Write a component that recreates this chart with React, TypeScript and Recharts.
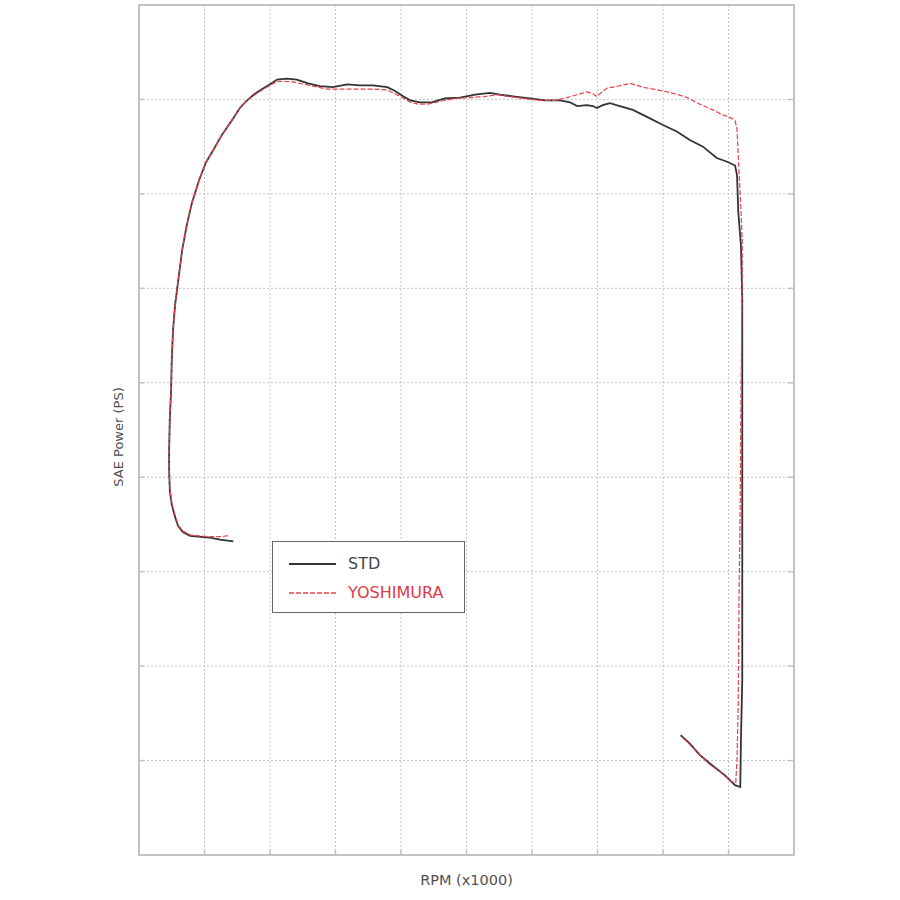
import React from "react";
import {
  LineChart,
  Line,
  XAxis,
  YAxis,
  ReferenceArea,
  ReferenceLine,
  Legend,
} from "recharts";

// RPM (x1000) along the traced path, STD exhaust
const stdRpm = [
  1.44, 1.24, 1.08, 0.9, 0.78, 0.67, 0.6, 0.55, 0.5, 0.47, 0.46, 0.46, 0.47, 0.49, 0.5, 0.52,
  0.55, 0.6, 0.66, 0.73, 0.81, 0.92, 1.02, 1.13, 1.27, 1.44, 1.54, 1.65, 1.77, 1.88, 2.0, 2.11,
  2.26, 2.41, 2.58, 2.76, 2.96, 3.18, 3.37, 3.57, 3.79, 3.91, 4.02, 4.14, 4.29, 4.47, 4.67, 4.9,
  5.13, 5.36, 5.51, 5.74, 5.97, 6.2, 6.43, 6.58, 6.69, 6.84, 6.93, 6.99, 7.08, 7.19, 7.34, 7.54,
  7.77, 8.0, 8.21, 8.41, 8.61, 8.82, 8.98, 9.1, 9.13, 9.15, 9.19, 9.21, 9.21, 9.21, 9.21, 9.21,
  9.19, 9.18, 9.1, 8.95, 8.75, 8.56, 8.41, 8.27,
];
const stdPower = [
  33.2, 33.4, 33.6, 33.7, 33.8, 34.2, 34.8, 35.8, 37.1, 38.6, 40.8, 42.9, 46.1, 49.2, 52.4, 55.6,
  58.2, 60.9, 64.1, 66.7, 69.1, 71.5, 73.3, 74.6, 76.3, 78.0, 79.1, 79.9, 80.6, 81.1, 81.6, 82.1,
  82.2, 82.1, 81.7, 81.4, 81.3, 81.6, 81.5, 81.5, 81.3, 80.9, 80.4, 79.9, 79.7, 79.7, 80.1, 80.2,
  80.5, 80.7, 80.5, 80.3, 80.1, 79.9, 79.9, 79.7, 79.3, 79.4, 79.3, 79.1, 79.4, 79.6, 79.3, 78.9,
  78.1, 77.3, 76.6, 75.7, 75.0, 73.8, 73.4, 73.0, 72.0, 68.0, 64.6, 58.8, 48.2, 37.6, 27.0, 18.5,
  12.2, 7.2, 7.4, 8.4, 9.5, 10.6, 11.8, 12.7,
];

// YOSHIMURA exhaust
const yoshiRpm = [
  1.36, 1.24, 1.08, 0.9, 0.78, 0.67, 0.6, 0.55, 0.5, 0.47, 0.46, 0.46, 0.47, 0.49, 0.5, 0.52,
  0.55, 0.6, 0.66, 0.73, 0.81, 0.92, 1.02, 1.13, 1.27, 1.44, 1.54, 1.65, 1.77, 1.88, 2.0, 2.11,
  2.31, 2.53, 2.73, 2.87, 3.15, 3.37, 3.6, 3.79, 3.91, 4.02, 4.14, 4.26, 4.41, 4.6, 4.82, 5.05,
  5.28, 5.47, 5.66, 5.89, 6.12, 6.35, 6.53, 6.69, 6.84, 6.93, 6.99, 7.07, 7.15, 7.31, 7.5, 7.69,
  7.85, 8.0, 8.18, 8.37, 8.56, 8.76, 8.9, 9.02, 9.1, 9.13, 9.15, 9.18, 9.21, 9.21, 9.19, 9.18,
  9.16, 9.15, 9.13, 9.11, 9.02, 8.87, 8.69, 8.52, 8.38, 8.27,
];
const yoshiPower = [
  33.8, 33.7, 33.7, 33.8, 33.9, 34.3, 34.9, 36.0, 37.3, 38.9, 40.8, 42.9, 46.1, 49.2, 52.4, 55.6,
  58.2, 60.9, 64.1, 66.7, 69.1, 71.5, 73.3, 74.6, 76.3, 78.0, 79.1, 79.9, 80.5, 81.0, 81.5, 81.9,
  81.9, 81.6, 81.3, 81.1, 81.1, 81.1, 81.1, 81.0, 80.6, 80.2, 79.7, 79.5, 79.5, 79.8, 80.1, 80.2,
  80.3, 80.5, 80.3, 80.1, 79.9, 79.9, 80.2, 80.5, 80.8, 80.6, 80.3, 80.8, 81.2, 81.4, 81.7, 81.3,
  81.1, 80.9, 80.6, 80.2, 79.5, 78.9, 78.4, 78.1, 77.8, 76.8, 73.9, 69.7, 65.1, 60.9, 48.2, 37.6,
  27.0, 16.4, 10.1, 7.6, 7.9, 8.8, 9.7, 10.9, 11.9, 12.6,
];

const rpmTicks = [0, 1, 2, 3, 4, 5, 6, 7, 8, 9, 10];
const powerTicks = [0, 10, 20, 30, 40, 50, 60, 70, 80, 90];

const stdData = stdRpm.map((rpm, i) => ({ rpm, power: stdPower[i] }));
const yoshiData = yoshiRpm.map((rpm, i) => ({ rpm, power: yoshiPower[i] }));

const legendItems = [
  { name: "STD", color: "#333", textColor: "#444", dash: undefined },
  { name: "YOSHIMURA", color: "#e8434c", textColor: "#e23a45", dash: "5 2" },
];

const FONT = "'DejaVu Sans', sans-serif";
const GRID = "#c4c4c4";
const FRAME = "#c2c2c2";

// kotak legend di tengah bawah
const LegendBox = () => (
  <div
    style={{
      width: 193,
      height: 72,
      boxSizing: "border-box",
      border: "1px solid #666",
      background: "#fff",
      position: "relative",
      fontFamily: FONT,
      fontSize: 16,
    }}
  >
    {legendItems.map((item, i) => (
      <div
        key={item.name}
        style={{
          position: "absolute",
          left: 16,
          top: 11 + i * 29,
          height: 22,
          display: "flex",
          alignItems: "center",
        }}
      >
        <svg width={47} height={4}>
          <line
            x1={0}
            y1={2}
            x2={47}
            y2={2}
            stroke={item.color}
            strokeWidth={item.dash ? 1.3 : 2}
            strokeDasharray={item.dash}
          />
        </svg>
        <span style={{ marginLeft: 12, color: item.textColor, lineHeight: "22px" }}>{item.name}</span>
      </div>
    ))}
  </div>
);

const App = () => {
  return (
    <div style={{ position: "absolute", left: 0, top: 0, width: 900, height: 900, background: "#fff" }}>
      <LineChart width={900} height={900} margin={{ top: 5, right: 106, bottom: 0, left: 97 }}>
        <XAxis
          dataKey="rpm"
          type="number"
          domain={[0, 10]}
          ticks={rpmTicks}
          allowDataOverflow
          height={45}
          axisLine={false}
          tick={false}
          tickLine={false}
          label={{
            content: (props: any) => {
              const vb = props.viewBox;
              return (
                <text
                  x={vb.x + vb.width / 2}
                  y={vb.y + 25}
                  textAnchor="middle"
                  dominantBaseline="central"
                  fontFamily={FONT}
                  fontSize={14.5}
                  fill="#505050"
                >
                  RPM (x1000)
                </text>
              );
            },
          }}
        />
        <YAxis
          type="number"
          domain={[0, 90]}
          ticks={powerTicks}
          allowDataOverflow
          width={42}
          axisLine={false}
          tickLine={false}
          tick={false}
          label={{
            content: (props: any) => {
              const vb = props.viewBox;
              const cx = vb.x + vb.width / 2;
              const cy = vb.y + vb.height / 2 + 7;
              return (
                <text
                  x={cx}
                  y={cy}
                  transform={`rotate(-90, ${cx}, ${cy})`}
                  textAnchor="middle"
                  dominantBaseline="central"
                  fontFamily={FONT}
                  fontSize={13}
                  fill="#505050"
                >
                  SAE Power (PS)
                </text>
              );
            },
          }}
        />
        {/* grid putus-putus */}
        {rpmTicks.slice(1, -1).map((t) => (
          <ReferenceLine key={`x${t}`} x={t} stroke={GRID} strokeDasharray="2 2" />
        ))}
        {powerTicks.slice(1).map((t) => (
          <ReferenceLine key={`y${t}`} y={t} stroke={GRID} strokeDasharray="2 2" />
        ))}
        {/* tick pendek di dalam bingkai */}
        {rpmTicks.slice(1, -1).map((t) => (
          <ReferenceLine
            key={`bx${t}`}
            segment={[{ x: t, y: 0 }, { x: t, y: 0.6 }]}
            stroke={FRAME}
            strokeWidth={1.5}
          />
        ))}
        {powerTicks.slice(1).map((t) => (
          <ReferenceLine
            key={`ly${t}`}
            segment={[{ x: 0, y: t }, { x: 0.08, y: t }]}
            stroke={FRAME}
            strokeWidth={1.5}
          />
        ))}
        {powerTicks.slice(1).map((t) => (
          <ReferenceLine
            key={`ry${t}`}
            segment={[{ x: 9.92, y: t }, { x: 10, y: t }]}
            stroke={FRAME}
            strokeWidth={1.5}
          />
        ))}
        {/* bingkai area plot */}
        <ReferenceArea x1={0} x2={10} y1={0} y2={90} fill="none" stroke={FRAME} strokeWidth={2} />
        <Line
          data={stdData}
          dataKey="power"
          stroke="#333"
          strokeWidth={1.8}
          dot={false}
          isAnimationActive={false}
        />
        <Line
          data={yoshiData}
          dataKey="power"
          stroke="#e8434c"
          strokeWidth={1.2}
          strokeDasharray="5 2"
          dot={false}
          isAnimationActive={false}
        />
        <Legend
          layout="horizontal"
          verticalAlign="middle"
          align="center"
          wrapperStyle={{ left: 272, top: 541, width: 193, height: 72 }}
          content={() => <LegendBox />}
        />
      </LineChart>
    </div>
  );
};

export default App;
